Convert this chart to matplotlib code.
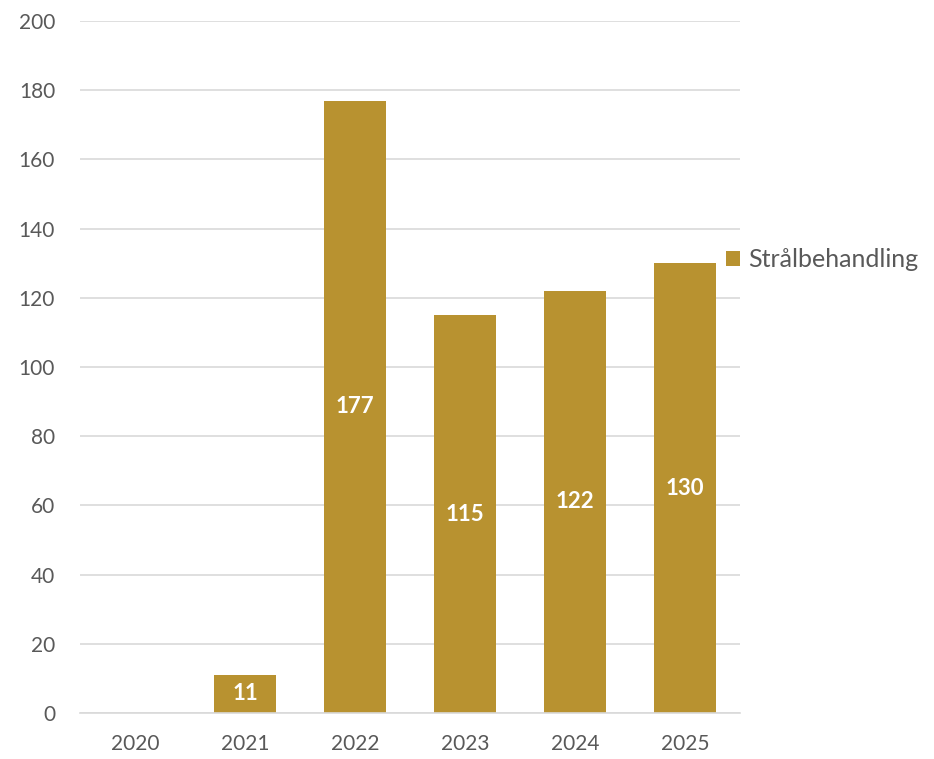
import matplotlib
matplotlib.use("Agg")
import matplotlib.pyplot as plt
import numpy as np

# data
years = ["2020", "2021", "2022", "2023", "2024", "2025"]
values = [0, 11, 177, 115, 122, 130]
series_name = "Strålbehandling"

bar_color = "#B89230"
text_color = "#595959"
grid_color = "#D9D9D9"

plt.rcParams['font.family'] = ['Lato', 'DejaVu Sans']

fig = plt.figure(figsize=(9.34, 7.59), dpi=100)
ax = fig.add_axes([0.0857, 0.0606, 0.7066, 0.9117])

x = np.arange(len(years))
bars = ax.bar(x, values, width=0.57, color=bar_color, label=series_name, zorder=2)

# value labels in the middle of each bar
for xi, v in zip(x, values):
    if v > 0:
        ax.text(xi, v / 2, str(v), ha="center", va="center", color="white",
                fontsize=16, fontweight="bold", zorder=3)

ax.set_xlim(-0.5, len(years) - 0.5)
ax.set_ylim(0, 200)
ax.set_yticks(np.arange(0, 201, 20))
ax.set_xticks(x)
ax.set_xticklabels(years)
ax.yaxis.grid(True, color=grid_color, linewidth=1.2, zorder=0)
ax.set_axisbelow(True)
for s in ["top", "right", "left"]:
    ax.spines[s].set_visible(False)
ax.spines["bottom"].set_color(grid_color)
ax.spines["bottom"].set_linewidth(1.2)
ax.tick_params(axis="both", length=0, labelsize=15, labelcolor=text_color)
ax.tick_params(axis="y", pad=18)
ax.tick_params(axis="x", pad=15)

leg = ax.legend(loc="center left", bbox_to_anchor=(0.958, 0.655), frameon=False,
                fontsize=18, handlelength=0.55, handleheight=0.55,
                handletextpad=0.35, borderaxespad=0.15)
for t in leg.get_texts():
    t.set_color(text_color)

fig.savefig("out.png", dpi=100)
